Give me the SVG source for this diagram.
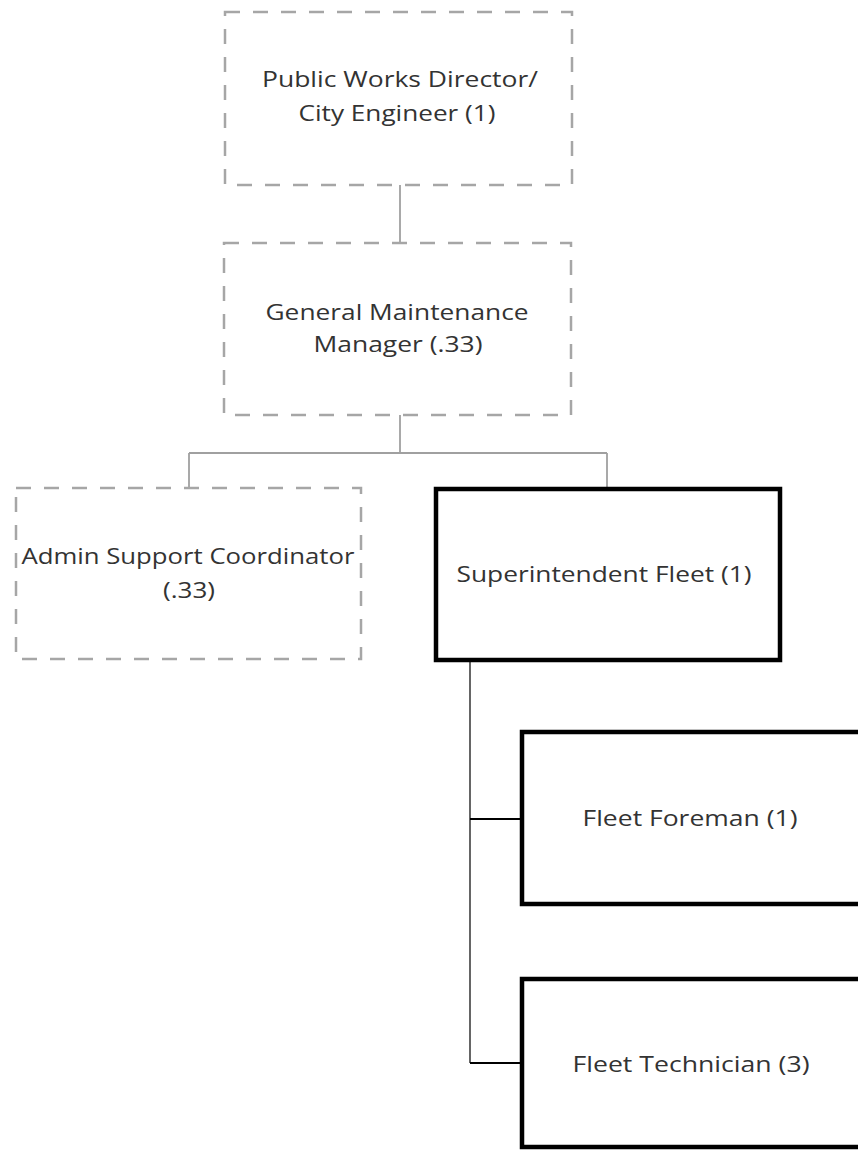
<svg xmlns="http://www.w3.org/2000/svg" width="858" height="1150" viewBox="0 0 858 1150">
<style>
.dash{fill:#fff;stroke:#a6a6a6;stroke-width:2.5;stroke-dasharray:15 13}
.solid{fill:#fff;stroke:#000;stroke-width:4.5}
.t{font-family:"Open Sans","Liberation Sans",sans-serif;font-size:21px;fill:#333;text-anchor:middle}
.cg{fill:none;stroke:#a0a0a0;stroke-width:1.8}
.ck{fill:none;stroke:#000;stroke-width:2}
.cd{fill:none;stroke:#555;stroke-width:1.8}
</style>
<rect width="858" height="1150" fill="#fff"/>
<g id="connectors">
<path class="cg" d="M400 185V243"/>
<path class="cg" d="M400 415V453M189 453H607M189 453V488M607 453V487"/>
<path class="cd" d="M470 660V1063"/>
<path class="ck" d="M470 819H522M470 1063H522"/>
</g>
<g id="n1">
<rect class="dash" x="225" y="12" width="347" height="173"/>
<text class="t" x="400" y="87" textLength="276" lengthAdjust="spacingAndGlyphs">Public Works Director/</text>
<text class="t" x="397" y="121" textLength="197" lengthAdjust="spacingAndGlyphs">City Engineer (1)</text>
</g>
<g id="n2">
<rect class="dash" x="224" y="243" width="347" height="172"/>
<text class="t" x="397" y="320" textLength="263" lengthAdjust="spacingAndGlyphs">General Maintenance</text>
<text class="t" x="398" y="352" textLength="169" lengthAdjust="spacingAndGlyphs">Manager (.33)</text>
</g>
<g id="n3">
<rect class="dash" x="16" y="488" width="345" height="171"/>
<text class="t" x="188" y="564" textLength="333" lengthAdjust="spacingAndGlyphs">Admin Support Coordinator</text>
<text class="t" x="189" y="598" textLength="52" lengthAdjust="spacingAndGlyphs">(.33)</text>
</g>
<g id="n4">
<rect class="solid" x="436" y="489" width="344" height="171"/>
<text class="t" x="604" y="582" textLength="295" lengthAdjust="spacingAndGlyphs">Superintendent Fleet (1)</text>
</g>
<g id="n5">
<rect class="solid" x="522" y="732" width="340" height="172"/>
<text class="t" x="690" y="826" textLength="215" lengthAdjust="spacingAndGlyphs">Fleet Foreman (1)</text>
</g>
<g id="n6">
<rect class="solid" x="522" y="979" width="340" height="168"/>
<text class="t" x="691" y="1072" textLength="237" lengthAdjust="spacingAndGlyphs">Fleet Technician (3)</text>
</g>
</svg>
